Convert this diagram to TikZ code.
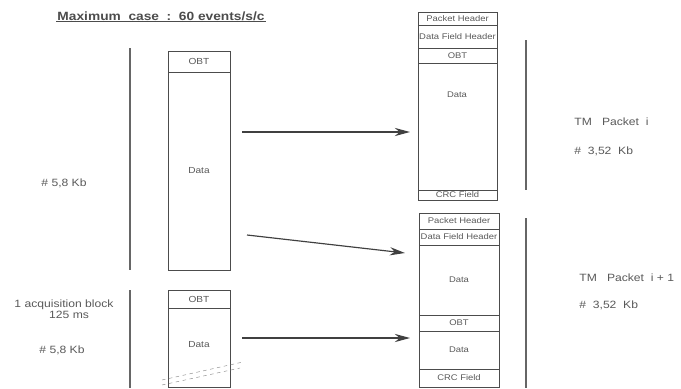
\documentclass[tikz,border=0pt]{standalone}
\usepackage{fontspec}
\setmainfont[FakeStretch=1.15]{Liberation Sans}
\usetikzlibrary{arrows.meta}
\tikzset{
  cellline/.style={draw=black!70,line width=.5pt},
  celltext/.style={text=black!65,inner sep=0pt,font=\fontsize{7}{8}\selectfont},
  lbl/.style={text=black!65,inner sep=1pt,font=\fontsize{9}{10.5}\selectfont,align=center},
  bar/.style={draw=black!60,line width=1.3pt},
  flow/.style={->,draw=black!75,line width=1pt},
}
% one box row: name, x1, y1, x2, y2, text
\newcommand\cell[6]{%
  \draw[cellline] (#2,#3) rectangle (#4,#5);
  \node[celltext] (#1) at ({(#2+#4)/2},{(#3+#5)/2}) {#6};}
\begin{document}
\begin{tikzpicture}[x=0.03cm,y=-0.03cm,>={Stealth[length=13pt,width=7pt]}]
  \useasboundingbox (0,0) rectangle (681,388);
  % title
  \node[text=black!70,inner sep=1pt,font=\bfseries\fontsize{10.2}{12}\selectfont] (title) at (161,16) {Maximum\ \ case\ \ :\ \ 60 events/s/c};
  \draw[black!70,line width=.7pt] (title.south west) -- (title.south east);
  % acquisition blocks
  \draw[bar] (130,48) -- (130,270);
  \draw[bar] (130,290) -- (130,388);
  \cell{obta}{168}{51}{230}{72}{\fontsize{7.5}{8}\selectfont OBT}
  \cell{dataa}{168}{72}{230}{270}{\fontsize{7.5}{8}\selectfont Data}
  \cell{obtb}{168}{290}{230}{308}{\fontsize{7.5}{8}\selectfont OBT}
  \cell{datab}{168}{308}{230}{387}{}
  \node[celltext,font=\fontsize{7.5}{8}\selectfont] (datablbl) at (199,345) {Data};
  \draw[black!45,dashed,line width=.4pt] (162,380) -- (243,362);
  \draw[black!45,dashed,line width=.4pt] (162,385) -- (240,368);
  \node[lbl] (sizea) at (64,183) {\# 5,8 Kb};
  \node[lbl] (acq) at (64,309) {1 acquisition block\\[-1pt]\ \ \ 125 ms};
  \node[lbl] (sizeb) at (62,350) {\# 5,8 Kb};
  % TM packet i
  \cell{ph1}{418}{12}{497}{25}{Packet Header}
  \cell{dfh1}{418}{25}{497}{48}{Data Field Header}
  \cell{obt1}{418}{48}{497}{63}{OBT}
  \cell{data1}{418}{63}{497}{190}{}
  \node[celltext] (datalbl1) at (457,95) {Data};
  \cell{crc1}{418}{190}{497}{200}{CRC Field}
  % TM packet i+1
  \cell{ph2}{419}{213}{499}{229}{Packet Header}
  \cell{dfh2}{419}{229}{499}{245}{Data Field Header}
  \cell{data2}{419}{245}{499}{315}{Data}
  \cell{obt2}{419}{315}{499}{331}{OBT}
  \cell{data3}{419}{331}{499}{369}{Data}
  \cell{crc2}{419}{369}{499}{387}{CRC Field}
  \draw[bar] (526,40) -- (526,190);
  \draw[bar] (526,218) -- (526,388);
  \node[lbl,anchor=west] (tm1) at (573,122) {TM\ \ \ Packet\ \ i};
  \node[lbl,anchor=west] (kb1) at (573,151) {\#\ \ 3,52\ \ Kb};
  \node[lbl,anchor=west] (tm2) at (578,278) {TM\ \ \ Packet\ \ i + 1};
  \node[lbl,anchor=west] (kb2) at (578,305) {\#\ \ 3,52\ \ Kb};
  % arrows
  \coordinate (s1) at (242,132);
  \coordinate (e1) at (410,132);
  \coordinate (s2) at (247,235);
  \coordinate (e2) at (405,253);
  \coordinate (s3) at (242,338);
  \coordinate (e3) at (410,338);
  \draw[flow] (s1) -- (e1);
  \draw[flow] (s2) -- (e2);
  \draw[flow] (s3) -- (e3);
\end{tikzpicture}
\end{document}
